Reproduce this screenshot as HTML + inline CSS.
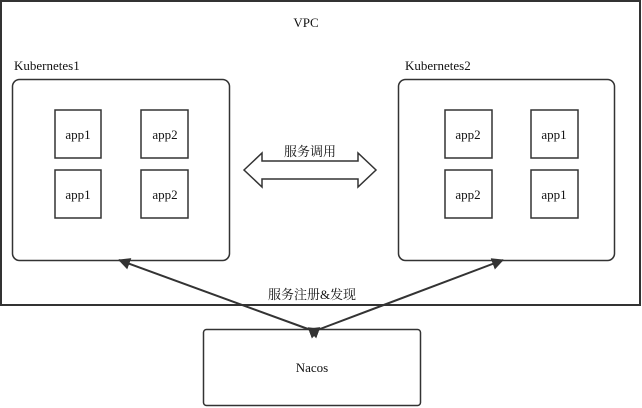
<!DOCTYPE html>
<html><head><meta charset="utf-8"><style>
html,body{margin:0;padding:0;background:#fff;}
svg{display:block;}
text{font-family:"Liberation Serif","Noto Serif CJK SC","Noto Sans CJK SC",serif;fill:#111;}
</style></head><body>
<svg width="642" height="408" viewBox="0 0 642 408" xmlns="http://www.w3.org/2000/svg">
<defs>
<marker id="ah" markerWidth="12" markerHeight="12" refX="11" refY="6" orient="auto" markerUnits="userSpaceOnUse">
<path d="M0,0 L12,6 L0,12 z" fill="#333"/>
</marker>
</defs>
<rect x="1" y="1" width="639" height="304" fill="#fff" stroke="#333" stroke-width="2"/>
<text x="306" y="27" font-size="13" text-anchor="middle">VPC</text>
<text x="14" y="70" font-size="13">Kubernetes1</text>
<text x="405" y="70" font-size="13">Kubernetes2</text>
<rect x="12.5" y="79.5" width="217" height="181" rx="7" fill="#fff" stroke="#333" stroke-width="1.5"/>
<rect x="398.5" y="79.5" width="216" height="181" rx="7" fill="#fff" stroke="#333" stroke-width="1.5"/>
<g fill="#fff" stroke="#333" stroke-width="1.5">
<rect x="55" y="110" width="46" height="48"/><rect x="141" y="110" width="47" height="48"/>
<rect x="55" y="170" width="46" height="48"/><rect x="141" y="170" width="47" height="48"/>
<rect x="445" y="110" width="47" height="48"/><rect x="531" y="110" width="47" height="48"/>
<rect x="445" y="170" width="47" height="48"/><rect x="531" y="170" width="47" height="48"/>
</g>
<g font-size="13" text-anchor="middle">
<text x="78" y="139">app1</text><text x="165" y="139">app2</text>
<text x="78" y="199">app1</text><text x="165" y="199">app2</text>
<text x="468" y="139">app2</text><text x="554" y="139">app1</text>
<text x="468" y="199">app2</text><text x="554" y="199">app1</text>
</g>
<path d="M244,170 L262,153 L262,161 L358,161 L358,153 L376,170 L358,187 L358,179 L262,179 L262,187 Z" fill="#fff" stroke="#333" stroke-width="1.5"/>
<text x="310" y="156" font-size="13" text-anchor="middle">服务调用</text>
<rect x="203.5" y="329.5" width="217" height="76" rx="3" fill="#fff" stroke="#333" stroke-width="1.5"/>
<text x="312" y="372" font-size="13" text-anchor="middle">Nacos</text>
<line x1="308" y1="329" x2="119" y2="260" stroke="#333" stroke-width="2" marker-start="url(#ah)" marker-end="url(#ah)"/>
<line x1="320" y1="329" x2="503" y2="260" stroke="#333" stroke-width="2" marker-start="url(#ah)" marker-end="url(#ah)"/>
<text x="312" y="299" font-size="13" text-anchor="middle">服务注册&amp;发现</text>
</svg>
</body></html>
